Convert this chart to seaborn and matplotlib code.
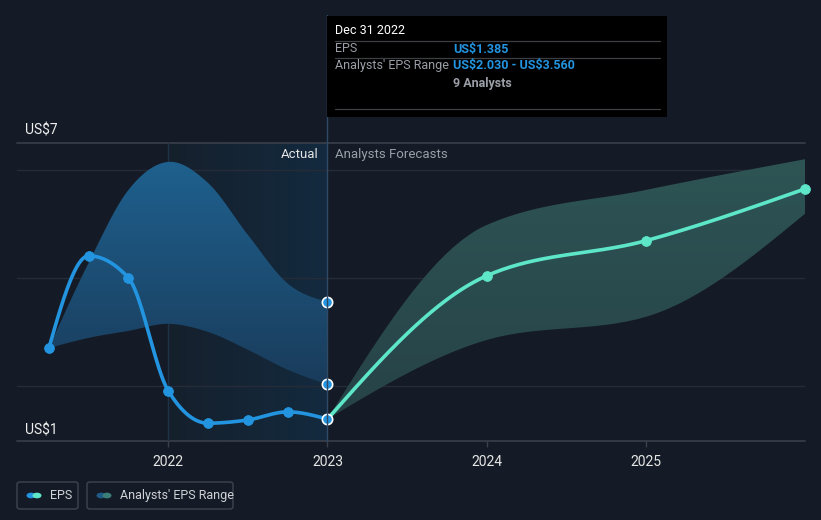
import numpy as np
import pandas as pd
import matplotlib
matplotlib.use("Agg")
import matplotlib.pyplot as plt
import seaborn as sns
from matplotlib.patches import FancyBboxPatch, Rectangle, Circle
from matplotlib.lines import Line2D

# ---------------- data ----------------
hist_x = [2021.25, 2021.5, 2021.75, 2022.0, 2022.25, 2022.5, 2022.75, 2023.0]
hist_eps = [2.70, 4.41, 4.00, 1.91, 1.31, 1.37, 1.52, 1.385]
hist_high = [2.70, 4.28, 5.63, 6.15, 5.76, 4.80, 3.90, 3.56]
hist_low = [2.70, 2.89, 3.02, 3.15, 3.00, 2.67, 2.30, 2.03]

fc_x = [2023.0, 2024.0, 2025.0, 2026.0]
fc_eps = [1.385, 4.04, 4.69, 5.65]
fc_high = [1.385, 4.98, 5.63, 6.20]
fc_low = [1.385, 2.85, 3.28, 5.19]

year_ticks = [2022, 2023, 2024, 2025]
year_labels = ["2022", "2023", "2024", "2025"]

BG = "#151b26"
BLUE = "#2394df"
TEAL = "#5de6c8"


def hermite(xs, ys, m, n):
    xs = np.asarray(xs, float)
    ys = np.asarray(ys, float)
    h = np.diff(xs)
    xo, yo = [], []
    for i in range(len(xs) - 1):
        t = np.linspace(0, 1, n, endpoint=(i == len(xs) - 2))
        h00 = 2 * t**3 - 3 * t**2 + 1
        h10 = t**3 - 2 * t**2 + t
        h01 = -2 * t**3 + 3 * t**2
        h11 = t**3 - t**2
        xo.append(xs[i] + t * h[i])
        yo.append(h00 * ys[i] + h10 * h[i] * m[i] + h01 * ys[i + 1] + h11 * h[i] * m[i + 1])
    return np.concatenate(xo), np.concatenate(yo)


def monotone(xs, ys, n=60):
    xs = np.asarray(xs, float)
    ys = np.asarray(ys, float)
    h = np.diff(xs)
    s = np.diff(ys) / h
    m = np.zeros_like(ys)
    for i in range(1, len(xs) - 1):
        s0, s1 = s[i - 1], s[i]
        p = (s0 * h[i] + s1 * h[i - 1]) / (h[i - 1] + h[i])
        m[i] = (np.sign(s0) + np.sign(s1)) * min(abs(s0), abs(s1), 0.5 * abs(p))
    m[0] = (3 * s[0] - m[1]) / 2
    m[-1] = (3 * s[-1] - m[-2]) / 2
    return hermite(xs, ys, m, n)


def smooth(xs, ys, n=60):
    xs = np.asarray(xs, float)
    ys = np.asarray(ys, float)
    s = np.diff(ys) / np.diff(xs)
    m = np.zeros_like(ys)
    for i in range(1, len(xs) - 1):
        m[i] = (ys[i + 1] - ys[i - 1]) / (xs[i + 1] - xs[i - 1])
    m[0] = (3 * s[0] - m[1]) / 2
    m[-1] = (3 * s[-1] - m[-2]) / 2
    return hermite(xs, ys, m, n)


sns.set_theme(style="dark")
plt.rcParams["font.family"] = ["Roboto", "DejaVu Sans"]

fig = plt.figure(figsize=(8.21, 5.2), dpi=100, facecolor=BG)
W, H = 821, 520
ax = fig.add_axes([17 / W, (H - 441) / H, (805 - 17) / W, (441 - 143) / H])
ax.set_facecolor(BG)
XMIN, XMAX = 2021.05, 2026.0
YMIN, YMAX = 0.98, 6.5
ax.set_xlim(XMIN, XMAX)
ax.set_ylim(YMIN, YMAX)
for sp in ax.spines.values():
    sp.set_visible(False)

# grid lines
for gy in [2, 4, 6]:
    ax.axhline(gy, color="#262c37", lw=1, zorder=1.5)
ax.axhline(YMAX, color="#3a404b", lw=1.2, zorder=1, clip_on=False)
ax.axhline(YMIN, color="#3a404b", lw=1.2, zorder=1, clip_on=False)

# actual region shading (gradient)
grad = np.linspace(0, 1, 256).reshape(1, -1)
cmap_act = matplotlib.colors.LinearSegmentedColormap.from_list(
    "act", [(0.085, 0.125, 0.175, 1.0), (0.075, 0.165, 0.245, 1.0)])
ax.imshow(grad, extent=[2022.0, 2023.0, YMIN, YMAX], aspect="auto",
          cmap=cmap_act, zorder=0.5, origin="lower")
ax.axvline(2022.0, color="#1f3347", lw=1, zorder=1.5)

# historical band with vertical gradient
bx, bh = smooth(hist_x, hist_high)
_, bl = smooth(hist_x, hist_low)
poly = ax.fill_between(bx, bl, bh, color="none", lw=0)
vgrad = np.linspace(0, 1, 256).reshape(-1, 1)
cmap_band = matplotlib.colors.LinearSegmentedColormap.from_list(
    "band", [(0.10, 0.23, 0.35), (0.12, 0.38, 0.56)])
im = ax.imshow(vgrad, extent=[2021.2, 2023.0, 1.9, 6.2], aspect="auto",
               cmap=cmap_band, origin="lower", zorder=2)
im.set_clip_path(poly.get_paths()[0], transform=ax.transData)

# forecast band
fx, fh = monotone(fc_x, fc_high)
_, fl = monotone(fc_x, fc_low)
poly2 = ax.fill_between(fx, fl, fh, color="none", lw=0)
cmap_fband = matplotlib.colors.LinearSegmentedColormap.from_list(
    "fband", [(0.15, 0.26, 0.28), (0.18, 0.33, 0.33)])
im2 = ax.imshow(vgrad, extent=[2023.0, 2026.0, 1.3, 6.2], aspect="auto",
                cmap=cmap_fband, origin="lower", zorder=2)
im2.set_clip_path(poly2.get_paths()[0], transform=ax.transData)

# lines
hx, hy = monotone(hist_x, hist_eps)
fxx, fyy = monotone(fc_x, fc_eps)
sns.lineplot(x=fxx, y=fyy, ax=ax, color=TEAL, lw=2.6, zorder=4, sort=False)
sns.lineplot(x=hx, y=hy, ax=ax, color=BLUE, lw=2.6, zorder=5, sort=False)

sns.scatterplot(x=hist_x[:-1], y=hist_eps[:-1], ax=ax, color=BLUE, s=50,
                edgecolor=BLUE, zorder=6, clip_on=False)
sns.scatterplot(x=fc_x[1:], y=fc_eps[1:], ax=ax, color=TEAL, s=50,
                edgecolor=TEAL, zorder=6, clip_on=False)
sns.scatterplot(x=[hist_x[-1]] * 3, y=[hist_eps[-1], hist_low[-1], hist_high[-1]],
                ax=ax, color=BLUE, s=55, edgecolor="white", linewidth=1.2,
                zorder=7, clip_on=False)

ax.set_xlabel("")
ax.set_ylabel("")
ax.set_xticks(year_ticks)
ax.set_xticklabels(year_labels)
ax.set_yticks([])
ax.tick_params(axis="x", colors="#3a404b", length=4, width=1, pad=6,
               labelcolor="#e6e6e6", labelsize=10, direction="out", bottom=True)

# vertical marker line at 2023
fig.add_artist(Line2D([327 / W, 327 / W], [1 - 15 / H, 1 - 441 / H],
                      color="#2e4a66", lw=1, zorder=3))

# labels
fig.text(25 / W, 1 - 131 / H, "US\\$7", color="#f0f0f0", fontsize=10, va="center")
fig.text(25 / W, 1 - 430 / H, "US\\$1", color="#f0f0f0", fontsize=10, va="center")
fig.text(319 / W, 1 - 154 / H, "Actual", color="#e6e6e6", fontsize=9.5, ha="right", va="center")
fig.text(335 / W, 1 - 154 / H, "Analysts Forecasts", color="#9a9ea6", fontsize=9.5, ha="left", va="center")

# tooltip
fig.add_artist(Rectangle((327 / W, 1 - 117 / H), (667 - 327) / W, (117 - 16) / H,
                         transform=fig.transFigure, facecolor="#000000", edgecolor="none", zorder=10))
for ly in [41, 58, 109]:
    fig.add_artist(Line2D([335 / W, 660 / W], [1 - ly / H] * 2, color="#3c3f44", lw=0.9, zorder=11))
fig.text(335 / W, 1 - 31 / H, "Dec 31 2022", color="#ffffff", fontsize=9, va="center", zorder=12)
fig.text(335 / W, 1 - 49 / H, "EPS", color="#9a9ea6", fontsize=9, va="center", zorder=12)
fig.text(453 / W, 1 - 49 / H, "US\\$1.385", color=BLUE, fontsize=9, fontweight="bold", va="center", zorder=12)
fig.text(335 / W, 1 - 66 / H, "Analysts' EPS Range", color="#9a9ea6", fontsize=9, va="center", zorder=12)
fig.text(453 / W, 1 - 66 / H, "US\\$2.030 - US\\$3.560", color=BLUE, fontsize=9, fontweight="bold", va="center", zorder=12)
fig.text(453 / W, 1 - 83 / H, "9 Analysts", color="#9a9ea6", fontsize=9, fontweight="bold", va="center", zorder=12)

# legend
def legend_box(x0, x1, c1, c2, label):
    fig.add_artist(FancyBboxPatch((x0 / W, 1 - 509 / H), (x1 - x0) / W, 27 / H,
                                  boxstyle="round,pad=0,rounding_size=0.004",
                                  transform=fig.transFigure, facecolor="none",
                                  edgecolor="#3c424c", lw=1.1))
    cy = 1 - 495.5 / H
    fig.add_artist(Circle(((x0 + 14) / W, cy), 4.5 / W, transform=fig.transFigure,
                          facecolor=c1, edgecolor="none"))
    fig.add_artist(Circle(((x0 + 20) / W, cy), 4.5 / W, transform=fig.transFigure,
                          facecolor=c2, edgecolor="none"))
    fig.text((x0 + 33) / W, cy, label, color="#cfd2d6", fontsize=9, va="center")

legend_box(17, 78, BLUE, TEAL, "EPS")
legend_box(87, 233, "#1e5a86", "#3b7d78", "Analysts' EPS Range")

fig.savefig("out.png", dpi=100, facecolor=BG)
